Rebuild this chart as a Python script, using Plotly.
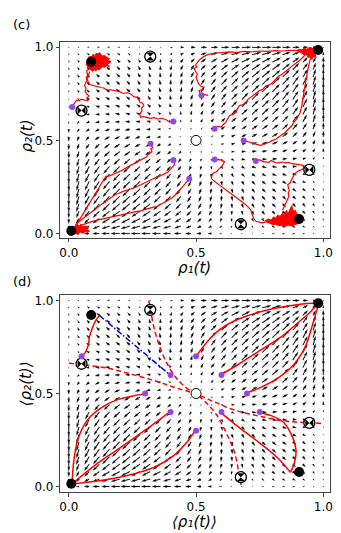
import numpy as np
import plotly.graph_objects as go

W, H = 341, 533

# fixed points
stable_x = [0.01, 0.088, 0.98, 0.905]
stable_y = [0.015, 0.922, 0.985, 0.078]
saddle_v_x = [0.32, 0.676]      # hourglass markers (top / bottom)
saddle_v_y = [0.95, 0.05]
saddle_h_x = [0.05, 0.945]      # bowtie markers (left / right)
saddle_h_y = [0.66, 0.342]
center_x = [0.5]
center_y = [0.5]

# starting points (purple)
c_start_x = [0.013, 0.411, 0.521, 0.573, 0.321, 0.687, 0.411, 0.573, 0.735, 0.473]
c_start_y = [0.680, 0.601, 0.743, 0.562, 0.482, 0.500, 0.394, 0.397, 0.390, 0.294]
d_start_x = [0.05, 0.5, 0.4, 0.6, 0.3, 0.7, 0.4, 0.6, 0.75, 0.5]
d_start_y = [0.7, 0.7, 0.6, 0.6, 0.5, 0.5, 0.4, 0.4, 0.4, 0.3]

# (c) stochastic trajectories
c_a_x = [0.013, 0.022, 0.030, 0.040, 0.049, 0.060, 0.075, 0.072, 0.079, 0.070, 0.064, 0.068, 0.062, 0.066, 0.072, 0.068, 0.075, 0.070, 0.080]
c_a_y = [0.680, 0.700, 0.716, 0.712, 0.722, 0.718, 0.713, 0.728, 0.739, 0.750, 0.766, 0.780, 0.795, 0.810, 0.822, 0.837, 0.850, 0.872, 0.885]
c_b_x = [0.409, 0.395, 0.385, 0.366, 0.350, 0.335, 0.320, 0.308, 0.295, 0.282, 0.279, 0.288, 0.285, 0.295, 0.290, 0.280, 0.275, 0.269,
         0.255, 0.245, 0.230, 0.215, 0.200, 0.178, 0.165, 0.150, 0.140, 0.127, 0.110, 0.095, 0.081, 0.078, 0.075, 0.072, 0.078, 0.082]
c_b_y = [0.601, 0.598, 0.610, 0.619, 0.615, 0.622, 0.618, 0.624, 0.628, 0.624, 0.640, 0.660, 0.672, 0.686, 0.700, 0.705, 0.720, 0.731,
         0.735, 0.748, 0.757, 0.752, 0.762, 0.766, 0.772, 0.770, 0.780, 0.784, 0.790, 0.795, 0.800, 0.812, 0.819, 0.835, 0.850, 0.870]
c_c_x = [0.548, 0.535, 0.521, 0.515, 0.512, 0.525, 0.530, 0.518, 0.510, 0.505, 0.500, 0.505, 0.497, 0.492, 0.503, 0.498, 0.505, 0.515,
         0.530, 0.548, 0.570, 0.600, 0.630, 0.660, 0.690, 0.720, 0.750, 0.780, 0.810, 0.840, 0.870, 0.900, 0.930]
c_c_y = [0.742, 0.746, 0.743, 0.752, 0.768, 0.772, 0.785, 0.792, 0.805, 0.822, 0.838, 0.855, 0.870, 0.885, 0.895, 0.905, 0.918, 0.935,
         0.950, 0.962, 0.968, 0.972, 0.975, 0.973, 0.978, 0.976, 0.980, 0.978, 0.982, 0.980, 0.984, 0.982, 0.985]
c_d_x = [0.573, 0.585, 0.598, 0.610, 0.618, 0.625, 0.632, 0.645, 0.657, 0.662, 0.670, 0.683, 0.696, 0.705, 0.722, 0.735, 0.748, 0.762,
         0.774, 0.790, 0.800, 0.812, 0.825, 0.838, 0.851, 0.865, 0.877, 0.890, 0.903, 0.915, 0.925, 0.935]
c_d_y = [0.562, 0.575, 0.572, 0.588, 0.600, 0.618, 0.633, 0.640, 0.650, 0.668, 0.686, 0.692, 0.704, 0.722, 0.739, 0.750, 0.766, 0.775,
         0.792, 0.800, 0.810, 0.828, 0.846, 0.855, 0.872, 0.885, 0.899, 0.910, 0.925, 0.940, 0.955, 0.968]
c_e_x = [0.687, 0.700, 0.712, 0.725, 0.740, 0.754, 0.765, 0.774, 0.788, 0.800, 0.812, 0.825, 0.838, 0.851, 0.862, 0.877, 0.885, 0.896,
         0.902, 0.909, 0.912, 0.916, 0.918, 0.922, 0.925, 0.929, 0.932, 0.935, 0.938, 0.942, 0.948, 0.955]
c_e_y = [0.500, 0.493, 0.490, 0.484, 0.478, 0.474, 0.478, 0.482, 0.490, 0.500, 0.505, 0.518, 0.530, 0.544, 0.560, 0.580, 0.598, 0.615,
         0.632, 0.650, 0.668, 0.686, 0.712, 0.739, 0.765, 0.792, 0.820, 0.846, 0.872, 0.899, 0.934, 0.960]
c_f_x = [0.735, 0.745, 0.754, 0.765, 0.774, 0.787, 0.795, 0.800, 0.812, 0.825, 0.840, 0.852, 0.864, 0.877, 0.890, 0.903, 0.916, 0.925,
         0.918, 0.905, 0.893, 0.885, 0.880, 0.872, 0.868, 0.860, 0.862, 0.866, 0.862, 0.865, 0.860, 0.855, 0.850, 0.845, 0.840]
c_f_y = [0.390, 0.395, 0.394, 0.385, 0.385, 0.382, 0.392, 0.388, 0.381, 0.380, 0.384, 0.380, 0.382, 0.375, 0.371, 0.370, 0.367, 0.360,
         0.345, 0.338, 0.328, 0.315, 0.300, 0.285, 0.270, 0.262, 0.245, 0.230, 0.215, 0.200, 0.185, 0.170, 0.155, 0.140, 0.125]
c_g_x = [0.573, 0.586, 0.599, 0.612, 0.608, 0.605, 0.598, 0.592, 0.585, 0.580, 0.572, 0.567, 0.562, 0.560, 0.566, 0.573, 0.582, 0.592,
         0.605, 0.618, 0.630, 0.644, 0.657, 0.670, 0.683, 0.696, 0.706, 0.715, 0.718, 0.722, 0.728, 0.735, 0.748, 0.761, 0.775, 0.787]
c_g_y = [0.397, 0.398, 0.394, 0.385, 0.375, 0.367, 0.358, 0.349, 0.340, 0.332, 0.328, 0.323, 0.310, 0.296, 0.288, 0.278, 0.270, 0.260,
         0.248, 0.234, 0.222, 0.207, 0.195, 0.181, 0.168, 0.154, 0.140, 0.128, 0.110, 0.092, 0.078, 0.066, 0.060, 0.057, 0.062, 0.066]
c_h_x = [0.321, 0.326, 0.330, 0.322, 0.327, 0.318, 0.312, 0.306, 0.296, 0.285, 0.272, 0.260, 0.247, 0.235, 0.222, 0.210, 0.198, 0.186,
         0.175, 0.160, 0.145, 0.138, 0.130, 0.122, 0.112, 0.102, 0.092, 0.082, 0.072, 0.062, 0.052, 0.042, 0.032, 0.020]
c_h_y = [0.482, 0.470, 0.460, 0.455, 0.440, 0.430, 0.425, 0.412, 0.405, 0.398, 0.388, 0.380, 0.372, 0.362, 0.350, 0.340, 0.332, 0.325,
         0.318, 0.310, 0.306, 0.290, 0.272, 0.252, 0.232, 0.210, 0.188, 0.165, 0.140, 0.118, 0.095, 0.072, 0.052, 0.030]
c_i_x = [0.411, 0.416, 0.414, 0.405, 0.399, 0.390, 0.379, 0.366, 0.353, 0.338, 0.321, 0.308, 0.295, 0.282, 0.269, 0.256, 0.243, 0.228,
         0.211, 0.195, 0.179, 0.166, 0.153, 0.140, 0.127, 0.114, 0.101, 0.088, 0.075, 0.062, 0.049, 0.040, 0.030]
c_i_y = [0.394, 0.380, 0.367, 0.352, 0.340, 0.330, 0.323, 0.312, 0.305, 0.298, 0.287, 0.276, 0.270, 0.258, 0.252, 0.245, 0.239, 0.233,
         0.225, 0.215, 0.207, 0.193, 0.181, 0.168, 0.154, 0.142, 0.128, 0.113, 0.101, 0.087, 0.074, 0.063, 0.051]
c_j_x = [0.473, 0.468, 0.463, 0.455, 0.448, 0.440, 0.431, 0.425, 0.418, 0.408, 0.398, 0.385, 0.373, 0.360, 0.347, 0.333, 0.321, 0.308,
         0.295, 0.282, 0.269, 0.252, 0.237, 0.220, 0.204, 0.188, 0.172, 0.155, 0.140, 0.123, 0.107, 0.090, 0.075, 0.058, 0.043, 0.030, 0.017]
c_j_y = [0.294, 0.285, 0.278, 0.262, 0.252, 0.240, 0.229, 0.218, 0.207, 0.194, 0.186, 0.172, 0.163, 0.152, 0.145, 0.142, 0.137, 0.130,
         0.128, 0.122, 0.119, 0.114, 0.110, 0.104, 0.101, 0.097, 0.092, 0.088, 0.083, 0.078, 0.071, 0.064, 0.057, 0.050, 0.044, 0.038, 0.030]

# (c) clouds of noisy points around the attractors (ragged outlines)
blob_ul_x = [0.068, 0.072, 0.080, 0.078, 0.090, 0.095, 0.103, 0.108, 0.115, 0.120, 0.128, 0.133, 0.140, 0.146, 0.152, 0.160, 0.156,
             0.166, 0.158, 0.152, 0.160, 0.148, 0.140, 0.134, 0.126, 0.120, 0.112, 0.106, 0.100, 0.094, 0.088, 0.080, 0.074]
blob_ul_y = [0.905, 0.925, 0.935, 0.948, 0.950, 0.962, 0.955, 0.968, 0.958, 0.972, 0.960, 0.952, 0.957, 0.948, 0.944, 0.940, 0.930,
             0.922, 0.915, 0.908, 0.898, 0.900, 0.892, 0.897, 0.888, 0.882, 0.886, 0.872, 0.880, 0.870, 0.878, 0.884, 0.892]
blob_ur_x = [0.895, 0.905, 0.915, 0.925, 0.935, 0.948, 0.960, 0.972, 0.978, 0.975, 0.968, 0.972, 0.960, 0.955, 0.950, 0.942, 0.935,
             0.928, 0.918, 0.908]
blob_ur_y = [0.982, 0.990, 0.985, 0.995, 0.990, 1.000, 0.992, 0.998, 0.985, 0.970, 0.960, 0.945, 0.950, 0.935, 0.950, 0.945, 0.958,
             0.962, 0.970, 0.972]
blob_lr_x = [0.770, 0.785, 0.795, 0.805, 0.812, 0.822, 0.830, 0.840, 0.848, 0.855, 0.862, 0.870, 0.876, 0.882, 0.890, 0.898, 0.905,
             0.915, 0.918, 0.910, 0.900, 0.888, 0.875, 0.862, 0.850, 0.838, 0.825, 0.812, 0.800, 0.790, 0.780]
blob_lr_y = [0.068, 0.078, 0.072, 0.090, 0.082, 0.100, 0.092, 0.110, 0.100, 0.125, 0.108, 0.135, 0.150, 0.118, 0.125, 0.100, 0.105,
             0.090, 0.075, 0.060, 0.052, 0.048, 0.040, 0.046, 0.038, 0.045, 0.042, 0.050, 0.048, 0.056, 0.058]
blob_ll_x = [-0.005, 0.000, 0.010, 0.015, 0.025, 0.030, 0.040, 0.048, 0.055, 0.065, 0.078, 0.070, 0.082, 0.065, 0.055, 0.045, 0.035,
             0.025, 0.012, 0.002]
blob_ll_y = [0.000, 0.025, 0.020, 0.040, 0.030, 0.055, 0.040, 0.050, 0.035, 0.040, 0.030, 0.022, 0.012, 0.010, 0.002, 0.008, -0.005,
             0.002, -0.010, -0.008]

# (d) mean trajectories
d_1_x = [0.049, 0.065, 0.072, 0.078, 0.081, 0.087, 0.094, 0.105, 0.120]
d_1_y = [0.700, 0.720, 0.742, 0.770, 0.804, 0.830, 0.858, 0.890, 0.920]
d_2_x = [0.499, 0.528, 0.567, 0.618, 0.696, 0.800, 0.903, 0.981]
d_2_y = [0.698, 0.751, 0.813, 0.867, 0.915, 0.956, 0.979, 0.986]
d_3_x = [0.599, 0.670, 0.750, 0.830, 0.900, 0.950, 0.981]
d_3_y = [0.602, 0.660, 0.730, 0.800, 0.880, 0.940, 0.986]
d_4_x = [0.696, 0.748, 0.812, 0.877, 0.929, 0.955, 0.974, 0.981]
d_4_y = [0.503, 0.529, 0.574, 0.645, 0.751, 0.858, 0.947, 0.986]
d_5_x = [0.299, 0.256, 0.191, 0.127, 0.075, 0.036, 0.019, 0.013]
d_5_y = [0.497, 0.488, 0.467, 0.423, 0.361, 0.254, 0.130, 0.014]
d_6_x = [0.396, 0.308, 0.204, 0.101, 0.013]
d_6_y = [0.400, 0.311, 0.210, 0.112, 0.014]
d_7_x = [0.495, 0.463, 0.411, 0.334, 0.230, 0.127, 0.013]
d_7_y = [0.298, 0.236, 0.165, 0.103, 0.059, 0.032, 0.014]
d_8_x = [0.599, 0.670, 0.748, 0.819, 0.871]
d_8_y = [0.396, 0.316, 0.236, 0.156, 0.076]
d_9_x = [0.748, 0.800, 0.845, 0.877, 0.893, 0.887, 0.871]
d_9_y = [0.396, 0.378, 0.343, 0.272, 0.192, 0.130, 0.076]
# separatrices (dashed) and jump (dash-dot)
sep_v_x = [0.314, 0.321, 0.334, 0.353, 0.379, 0.418, 0.463, 0.498, 0.541, 0.580, 0.618, 0.651, 0.670, 0.677]
sep_v_y = [1.000, 0.952, 0.858, 0.769, 0.680, 0.591, 0.529, 0.499, 0.449, 0.387, 0.290, 0.183, 0.059, 0.005]
sep_h_x = [0.000, 0.056, 0.153, 0.256, 0.347, 0.424, 0.498, 0.567, 0.644, 0.748, 0.851, 0.944, 0.994]
sep_h_y = [0.663, 0.654, 0.636, 0.600, 0.565, 0.529, 0.499, 0.458, 0.414, 0.378, 0.352, 0.343, 0.339]
jump_x = [0.120, 0.396]
jump_y = [0.920, 0.602]

# quiver grid and the drift field; coupling read from the top saddle position
grid = np.linspace(0, 1, 26)
coupling = 2 * (0.5 - saddle_v_x[0])


def drift(x, y):
    u = x * (1 - x) * ((x - 0.5) + coupling * (y - 0.5))
    v = y * (1 - y) * ((y - 0.5) + coupling * (x - 0.5))
    return u, v


X_DOM = [52 / W, 325 / W]
X_RANGE = [-0.033, 1.027]
C_DOM, C_RANGE = [1 - 230 / H, 1 - 32 / H], [-0.023, 1.03]
D_DOM, D_RANGE = [1 - 487 / H, 1 - 288 / H], [-0.032, 1.028]


def quiver_trace(xaxis, yaxis, ydom, yrange):
    # matplotlib-like arrows (pivot tail, shaft w, head 3w x 5w)
    ppx = (X_DOM[1] - X_DOM[0]) * W / (X_RANGE[1] - X_RANGE[0])
    ppy = (ydom[1] - ydom[0]) * H / (yrange[1] - yrange[0])
    gx, gy = np.meshgrid(grid, grid)
    gx, gy = gx.ravel(), gy.ravel()
    u, v = drift(gx, gy)
    mag = np.hypot(u, v)
    length = mag / mag.mean() * 5.8
    w = 0.8
    hl, hal, hw = 5 * w, 4.5 * w, 3 * w
    xs, ys = [], []
    for x0, y0, uu, vv, L in zip(gx, gy, u, v, length):
        if L < w:
            th = np.arange(0, 7) * np.pi / 3
            ax, ay = np.cos(th) * w * 0.6, np.sin(th) * w * 0.6
        elif L < hl:
            s = L / hl
            ax = s * np.array([0, hl - hal, 0, hl, 0, hl - hal, 0])
            ay = s * np.array([w / 2, w / 2, hw / 2, 0, -hw / 2, -w / 2, -w / 2])
        else:
            ax = np.array([0, L - hal, L - hl, L, L - hl, L - hal, 0])
            ay = np.array([w / 2, w / 2, hw / 2, 0, -hw / 2, -w / 2, -w / 2])
        a = np.arctan2(vv, uu)
        rx = ax * np.cos(a) - ay * np.sin(a)
        ry = ax * np.sin(a) + ay * np.cos(a)
        xs += list(x0 + rx / ppx) + [None]
        ys += list(y0 + ry / ppy) + [None]
    return go.Scatter(x=xs, y=ys, mode='lines', fill='toself', fillcolor='black',
                      line=dict(width=0.2, color='black'), xaxis=xaxis, yaxis=yaxis, hoverinfo='skip')


def add_markers(fig, xa, ya, sx, sy):
    fig.add_trace(go.Scatter(x=stable_x, y=stable_y, mode='markers', xaxis=xa, yaxis=ya,
                             marker=dict(size=10, color='black')))
    fig.add_trace(go.Scatter(x=center_x, y=center_y, mode='markers', xaxis=xa, yaxis=ya,
                             marker=dict(size=10, color='white', line=dict(width=1, color='black'))))
    fig.add_trace(go.Scatter(x=saddle_v_x + saddle_h_x, y=saddle_v_y + saddle_h_y, mode='markers', xaxis=xa, yaxis=ya,
                             marker=dict(size=11, color='white', line=dict(width=1.3, color='black'))))
    fig.add_trace(go.Scatter(x=saddle_v_x, y=saddle_v_y, mode='markers', xaxis=xa, yaxis=ya,
                             marker=dict(size=8, symbol='hourglass', color='black', line=dict(width=0))))
    fig.add_trace(go.Scatter(x=saddle_h_x, y=saddle_h_y, mode='markers', xaxis=xa, yaxis=ya,
                             marker=dict(size=8, symbol='bowtie', color='black', line=dict(width=0))))
    fig.add_trace(go.Scatter(x=sx, y=sy, mode='markers', xaxis=xa, yaxis=ya,
                             marker=dict(size=6, color='#9645e6')))


fig = go.Figure()

# panel (c)
fig.add_trace(quiver_trace('x', 'y', C_DOM, C_RANGE))
for bx, by in [(blob_ul_x, blob_ul_y), (blob_ur_x, blob_ur_y), (blob_lr_x, blob_lr_y), (blob_ll_x, blob_ll_y)]:
    fig.add_trace(go.Scatter(x=bx, y=by, mode='lines', fill='toself', fillcolor='red',
                             line=dict(color='red', width=1), xaxis='x', yaxis='y'))
for px, py in [(c_a_x, c_a_y), (c_b_x, c_b_y), (c_c_x, c_c_y), (c_d_x, c_d_y), (c_e_x, c_e_y),
               (c_f_x, c_f_y), (c_g_x, c_g_y), (c_h_x, c_h_y), (c_i_x, c_i_y), (c_j_x, c_j_y)]:
    fig.add_trace(go.Scatter(x=px, y=py, mode='lines', line=dict(color='red', width=1.2), xaxis='x', yaxis='y'))
add_markers(fig, 'x', 'y', c_start_x, c_start_y)

# panel (d)
fig.add_trace(quiver_trace('x2', 'y2', D_DOM, D_RANGE))
for px, py in [(d_1_x, d_1_y), (d_2_x, d_2_y), (d_3_x, d_3_y), (d_4_x, d_4_y), (d_5_x, d_5_y),
               (d_6_x, d_6_y), (d_7_x, d_7_y), (d_8_x, d_8_y), (d_9_x, d_9_y)]:
    fig.add_trace(go.Scatter(x=px, y=py, mode='lines', line=dict(color='red', width=1.5, shape='spline'),
                             xaxis='x2', yaxis='y2'))
for px, py in [(sep_v_x, sep_v_y), (sep_h_x, sep_h_y)]:
    fig.add_trace(go.Scatter(x=px, y=py, mode='lines', line=dict(color='red', width=1.5, dash='5px,3px', shape='spline'),
                             xaxis='x2', yaxis='y2'))
fig.add_trace(go.Scatter(x=jump_x, y=jump_y, mode='lines', line=dict(color='blue', width=1.5, dash='6px,2px,1.5px,2px'),
                         xaxis='x2', yaxis='y2'))
add_markers(fig, 'x2', 'y2', d_start_x, d_start_y)

axis_style = dict(showline=True, mirror=True, linecolor='#444', linewidth=1, ticks='outside', ticklen=3.5,
                  tickwidth=1, tickcolor='#444', tickvals=[0, 0.5, 1], ticktext=['0.0', '0.5', '1.0'],
                  showgrid=False, zeroline=False, tickfont=dict(size=12, color='black'))

fig.update_layout(
    width=W, height=H, margin=dict(l=0, r=0, t=0, b=0),
    paper_bgcolor='white', plot_bgcolor='white', showlegend=False,
    font=dict(family='DejaVu Sans', color='black'),
    xaxis=dict(domain=X_DOM, range=X_RANGE, anchor='y', **axis_style),
    yaxis=dict(domain=C_DOM, range=C_RANGE, anchor='x', **axis_style),
    xaxis2=dict(domain=X_DOM, range=X_RANGE, anchor='y2', **axis_style),
    yaxis2=dict(domain=D_DOM, range=D_RANGE, anchor='x2', **axis_style),
)

labels = [
    dict(text='(c)', x=13 / W, y=1 - 15 / H, size=13, angle=0, style='normal'),
    dict(text='(d)', x=13 / W, y=1 - 274 / H, size=13, angle=0, style='normal'),
    dict(text='ρ₁(t)', x=188 / W, y=1 - 260.5 / H, size=15, angle=0, style='italic'),
    dict(text='ρ₂(t)', x=18 / W, y=1 - 127 / H, size=15, angle=-90, style='italic'),
    dict(text='⟨ρ₁(t)⟩', x=188 / W, y=1 - 517 / H, size=15, angle=0, style='italic'),
    dict(text='⟨ρ₂(t)⟩', x=18 / W, y=1 - 377 / H, size=15, angle=-90, style='italic'),
]
for lb in labels:
    fig.add_annotation(text=lb['text'], x=lb['x'], y=lb['y'], xref='paper', yref='paper',
                       showarrow=False, textangle=lb['angle'],
                       font=dict(size=lb['size'], color='black', style=lb['style']),
                       xanchor='center', yanchor='middle')

fig.write_html("out.html")
